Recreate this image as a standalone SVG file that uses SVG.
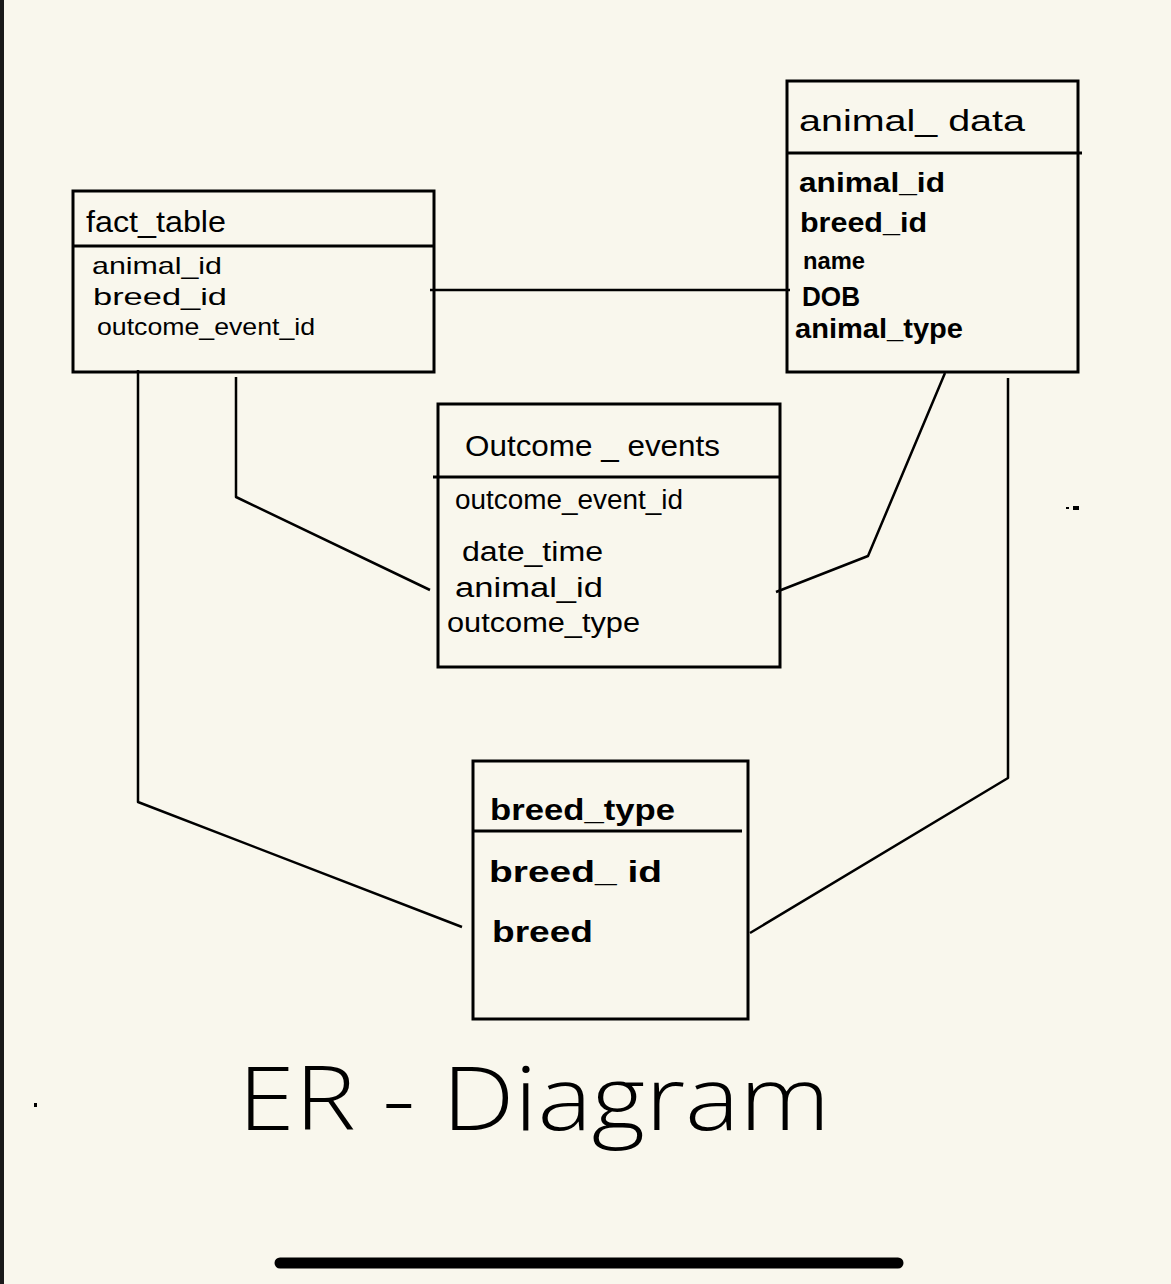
<svg xmlns="http://www.w3.org/2000/svg" width="1171" height="1284" viewBox="0 0 1171 1284">
<style>
.bg{fill:#f9f7ed}
.box{fill:none;stroke:#000;stroke-width:3}
.div{stroke:#000;stroke-width:3}
.conn{fill:none;stroke:#000;stroke-width:2.5;stroke-linejoin:round}
text{font-family:"Liberation Sans",Arial,sans-serif;fill:#000}
.t{font-size:30px}
.f{font-size:27px}
.fs{font-size:24px}
.b{font-weight:bold}
.big{font-family:"Open Sans","Liberation Sans",sans-serif;font-size:88px;font-weight:300}
</style>
<rect class="bg" x="0" y="0" width="1171" height="1284"/>
<rect x="0" y="0" width="4" height="1284" fill="#1a1a1a"/>

<g id="connectors">
<path class="conn" d="M430 290 L790 290"/>
<path class="conn" d="M138 370 L138 802 L462 927"/>
<path class="conn" d="M236 377 L236 497 L430 590"/>
<path class="conn" d="M945 373 L868 556 L776 592"/>
<path class="conn" d="M1008 378 L1008 778 L750 933"/>
</g>

<g id="fact_table">
<rect class="box" x="73" y="191" width="361" height="181"/>
<line class="div" x1="73" y1="246" x2="434" y2="246"/>
<text class="t" x="86" y="232" textLength="140" lengthAdjust="spacingAndGlyphs">fact_table</text>
<text class="fs" x="92" y="274" textLength="130" lengthAdjust="spacingAndGlyphs">animal_id</text>
<text class="fs" x="93" y="305" textLength="134" lengthAdjust="spacingAndGlyphs">breed_id</text>
<text class="fs" x="97" y="335" textLength="218" lengthAdjust="spacingAndGlyphs">outcome_event_id</text>
</g>

<g id="animal_data">
<rect class="box" x="787" y="81" width="291" height="291"/>
<line class="div" x1="787" y1="153" x2="1082" y2="153"/>
<text class="t" x="799" y="131" textLength="226" lengthAdjust="spacingAndGlyphs">animal_ data</text>
<text class="f b" x="799" y="192" textLength="146" lengthAdjust="spacingAndGlyphs">animal_id</text>
<text class="f b" x="800" y="232" textLength="127" lengthAdjust="spacingAndGlyphs">breed_id</text>
<text class="fs b" x="803" y="269" textLength="62" lengthAdjust="spacingAndGlyphs">name</text>
<text class="f b" x="802" y="306" textLength="58" lengthAdjust="spacingAndGlyphs">DOB</text>
<text class="f b" x="795" y="338" textLength="168" lengthAdjust="spacingAndGlyphs">animal_type</text>
</g>

<g id="outcome_events">
<rect class="box" x="438" y="404" width="342" height="263"/>
<line class="div" x1="433" y1="477" x2="780" y2="477"/>
<text class="t" x="465" y="456" textLength="255" lengthAdjust="spacingAndGlyphs">Outcome _ events</text>
<text class="f" x="455" y="509" textLength="228" lengthAdjust="spacingAndGlyphs">outcome_event_id</text>
<text class="f" x="462" y="561" textLength="141" lengthAdjust="spacingAndGlyphs">date_time</text>
<text class="f" x="455" y="597" textLength="148" lengthAdjust="spacingAndGlyphs">animal_id</text>
<text class="f" x="447" y="632" textLength="193" lengthAdjust="spacingAndGlyphs">outcome_type</text>
</g>

<g id="breed_type">
<rect class="box" x="473" y="761" width="275" height="258"/>
<line class="div" x1="472" y1="831" x2="742" y2="831"/>
<text class="t b" x="490" y="820" textLength="185" lengthAdjust="spacingAndGlyphs">breed_type</text>
<text class="t b" x="489" y="882" textLength="173" lengthAdjust="spacingAndGlyphs">breed_ id</text>
<text class="t b" x="492" y="942" textLength="101" lengthAdjust="spacingAndGlyphs">breed</text>
</g>

<text class="big" x="238" y="1130" textLength="592" lengthAdjust="spacingAndGlyphs">ER - Diagram</text>

<rect x="1066" y="507" width="3" height="2" fill="#000"/>
<rect x="1073" y="506" width="6" height="4" fill="#000"/>
<rect x="34" y="1103" width="3" height="4" fill="#000"/>
<line x1="280" y1="1263" x2="898" y2="1263" stroke="#000" stroke-width="11" stroke-linecap="round"/>
</svg>
